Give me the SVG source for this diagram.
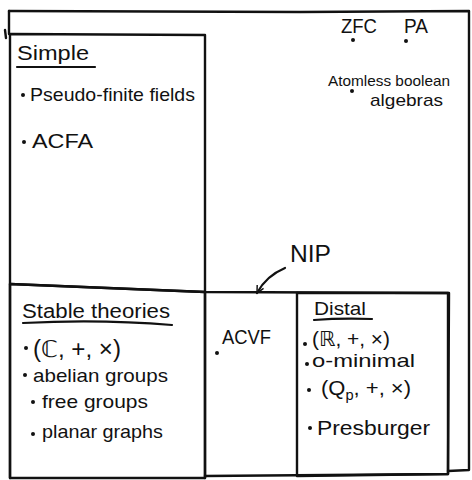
<svg xmlns="http://www.w3.org/2000/svg" width="472" height="480" viewBox="0 0 472 480">
<defs>
<style>
.box{fill:none;stroke:#111;stroke-width:2.4;stroke-linejoin:round;stroke-linecap:round}
.ul{fill:none;stroke:#111;stroke-width:2.2;stroke-linecap:round}
text{font-family:"Liberation Sans","DejaVu Sans",sans-serif;fill:#111}
.t{font-size:19px}
.h{font-size:20px}
.dot{fill:#111}
</style>
<marker id="ah" viewBox="0 0 10 10" refX="9" refY="5" markerWidth="9" markerHeight="9" orient="auto" markerUnits="userSpaceOnUse">
<path d="M1,1 L9,5 L1,9" fill="none" stroke="#111" stroke-width="1.6"/>
</marker>
</defs>
<rect width="472" height="480" fill="#fff"/>

<g id="all-theories">
<path class="box" d="M9,11 L300,12 L469,11 L469,470 L448,471"/>
<path class="box" d="M9,11 L9,34"/>
<path class="box" d="M5,30 L6,38"/>
<text class="h" x="341" y="33" textLength="36" lengthAdjust="spacingAndGlyphs">ZFC</text>
<circle class="dot" cx="353" cy="40" r="2"/>
<text class="h" x="404" y="33" textLength="24" lengthAdjust="spacingAndGlyphs">PA</text>
<circle class="dot" cx="406" cy="41" r="2"/>
<text font-size="15" x="328" y="86" textLength="122" lengthAdjust="spacingAndGlyphs">Atomless boolean</text>
<circle class="dot" cx="352" cy="91" r="2"/>
<text font-size="17" x="370" y="106" textLength="73" lengthAdjust="spacingAndGlyphs">algebras</text>
</g>

<g id="simple">
<path class="box" d="M10,34 L205,35 L205,478 M10,34 L10,478"/>
<text class="h" x="17" y="60" textLength="72" lengthAdjust="spacingAndGlyphs">Simple</text>
<path class="ul" d="M17,67 L95,67"/>
<circle class="dot" cx="23" cy="95" r="2"/>
<text class="t" x="30" y="101" textLength="165" lengthAdjust="spacingAndGlyphs">Pseudo-finite fields</text>
<circle class="dot" cx="24" cy="142" r="2"/>
<text class="h" x="32" y="148" textLength="61" lengthAdjust="spacingAndGlyphs">ACFA</text>
</g>

<g id="nip">
<path class="box" d="M10,284 L205,292 L449,293 L448,474 L205,476"/>
<circle class="dot" cx="217" cy="353" r="2"/>
<text class="h" x="222" y="344" textLength="49" lengthAdjust="spacingAndGlyphs">ACVF</text>
<text font-size="24" x="290" y="262" textLength="41" lengthAdjust="spacingAndGlyphs">NIP</text>
</g>

<g id="stable">
<path class="box" d="M10,284 L205,292 L205,478 L10,478 Z"/>
<text class="h" x="22" y="318" textLength="148" lengthAdjust="spacingAndGlyphs">Stable theories</text>
<path class="ul" d="M23,323 Q100,319 172,325"/>
<circle class="dot" cx="26" cy="348" r="2"/>
<text font-size="23" x="33" y="357" textLength="88" lengthAdjust="spacingAndGlyphs">(ℂ, +, ×)</text>
<circle class="dot" cx="25" cy="375" r="2"/>
<text class="t" x="33" y="382" textLength="135" lengthAdjust="spacingAndGlyphs">abelian groups</text>
<circle class="dot" cx="33" cy="402" r="2"/>
<text class="t" x="42" y="408" textLength="106" lengthAdjust="spacingAndGlyphs">free groups</text>
<circle class="dot" cx="33" cy="434" r="2"/>
<text class="t" x="42" y="438" textLength="121" lengthAdjust="spacingAndGlyphs">planar graphs</text>
</g>

<g id="distal">
<path class="box" d="M297,293 L297,476 L448,474 L448,293 Z"/>
<text class="t" x="314" y="315" textLength="52" lengthAdjust="spacingAndGlyphs">Distal</text>
<path class="ul" d="M314,320 Q340,318 372,319"/>
<circle class="dot" cx="305" cy="344" r="2"/>
<text font-size="21" x="312" y="346" textLength="78" lengthAdjust="spacingAndGlyphs">(ℝ, +, ×)</text>
<circle class="dot" cx="307" cy="364" r="2"/>
<text class="t" x="312" y="367" textLength="103" lengthAdjust="spacingAndGlyphs">o-minimal</text>
<circle class="dot" cx="309" cy="390" r="2"/>
<text font-size="21" x="321" y="395" textLength="90" lengthAdjust="spacingAndGlyphs">(Q<tspan font-size="14" dy="5">p</tspan><tspan dy="-5">, +, ×)</tspan></text>
<circle class="dot" cx="310" cy="428" r="2"/>
<text class="h" x="317" y="435" textLength="113" lengthAdjust="spacingAndGlyphs">Presburger</text>
</g>

<g id="connectors">
<path class="ul" d="M285,268 Q266,276 257,293" marker-end="url(#ah)"/>
</g>
</svg>
